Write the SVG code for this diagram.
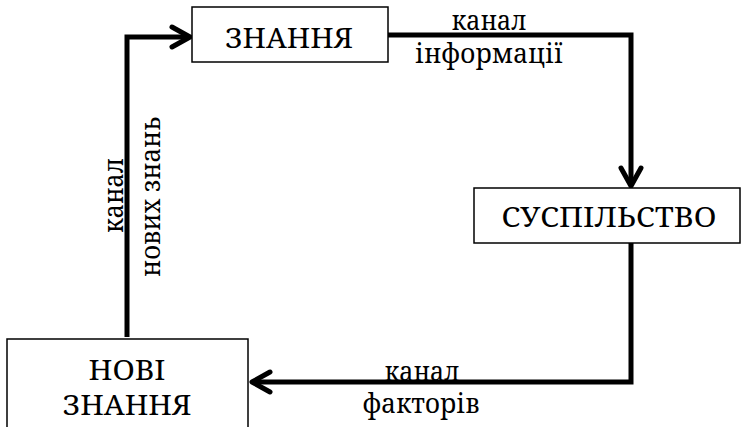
<svg xmlns="http://www.w3.org/2000/svg" width="744" height="427" viewBox="0 0 744 427">
<style>
.box{fill:#fff;stroke:#000;stroke-width:1.5}
text{font-family:'Noto Serif','DejaVu Serif','Liberation Serif',serif;font-size:28px;fill:#000;text-anchor:middle}
.c{fill:none;stroke:#000;stroke-width:5;stroke-linejoin:miter}
.ah{fill:none;stroke:#000;stroke-width:5;stroke-linecap:round;stroke-linejoin:round}
</style>
<rect width="744" height="427" fill="#fff"/>
<g id="connectors">
<path class="c" d="M127,337 V37 H190"/>
<path class="ah" d="M172,27 L190,37 L172,47"/>
<path class="c" d="M388,35 H631 V186"/>
<path class="ah" d="M621,168 L631,186 L641,168"/>
<path class="c" d="M631,243 V382 H252"/>
<path class="ah" d="M270,372 L252,382 L270,392"/>
</g>
<g id="node-znannia">
<rect class="box" x="192" y="7" width="196" height="55"/>
<text x="289" y="48" textLength="128" lengthAdjust="spacingAndGlyphs">ЗНАННЯ</text>
</g>
<g id="node-suspilstvo">
<rect class="box" x="474" y="188" width="266" height="55"/>
<text x="609" y="227" textLength="215" lengthAdjust="spacingAndGlyphs">СУСПІЛЬСТВО</text>
</g>
<g id="node-novi-znannia">
<rect class="box" x="7" y="339" width="241" height="100"/>
<text x="127" y="380" textLength="77" lengthAdjust="spacingAndGlyphs">НОВІ</text>
<text x="127" y="415" textLength="129" lengthAdjust="spacingAndGlyphs">ЗНАННЯ</text>
</g>
<g id="labels">
<text x="489" y="30" textLength="75" lengthAdjust="spacingAndGlyphs">канал</text>
<text x="489" y="63" textLength="148" lengthAdjust="spacingAndGlyphs">інформації</text>
<text x="422" y="381" textLength="75" lengthAdjust="spacingAndGlyphs">канал</text>
<text x="421" y="413" textLength="117" lengthAdjust="spacingAndGlyphs">факторів</text>
<text transform="translate(123,195.5) rotate(-90)" textLength="75" lengthAdjust="spacingAndGlyphs">канал</text>
<text transform="translate(160,197) rotate(-90)" textLength="160" lengthAdjust="spacingAndGlyphs">нових знань</text>
</g>
</svg>
